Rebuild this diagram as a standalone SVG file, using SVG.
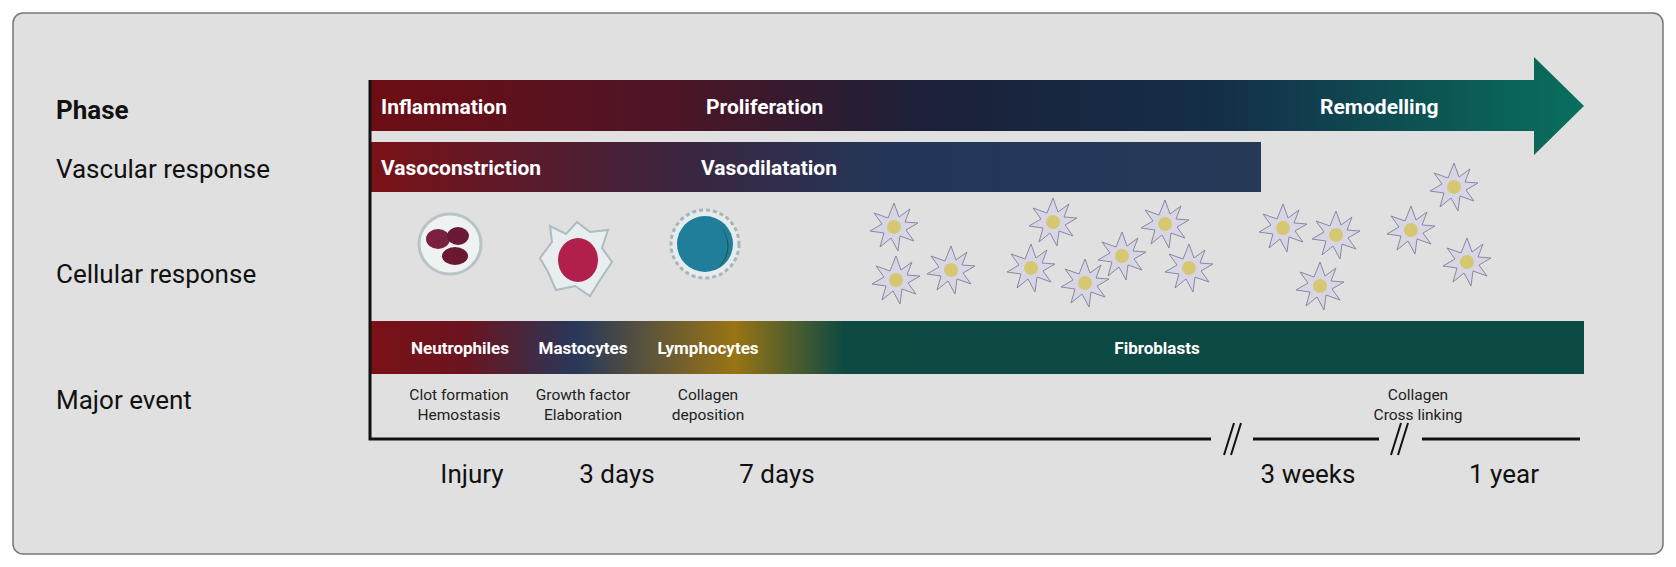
<svg xmlns="http://www.w3.org/2000/svg" xmlns:xlink="http://www.w3.org/1999/xlink" width="1676" height="567" viewBox="0 0 1676 567">
<style>
.lbl{font-family:Roboto,"Liberation Sans",sans-serif;fill:#111;font-size:26px}
.bw{font-family:Roboto,"Liberation Sans",sans-serif;fill:#fff;font-weight:bold;font-size:21px}
.cw{font-family:Roboto,"Liberation Sans",sans-serif;fill:#fff;font-weight:bold;font-size:17px;text-anchor:middle}
.ev{font-family:Roboto,"Liberation Sans",sans-serif;fill:#222;font-size:15.5px;text-anchor:middle}
.tm{font-family:Roboto,"Liberation Sans",sans-serif;fill:#111;font-size:26px;text-anchor:middle}
.ax{stroke:#111;stroke-width:3;fill:none}
</style>
<defs>
<linearGradient id="gp" x1="370" y1="0" x2="1584" y2="0" gradientUnits="userSpaceOnUse">
<stop offset="0" stop-color="#6e0d14"/><stop offset="0.25" stop-color="#4d1526"/><stop offset="0.45" stop-color="#1c2038"/><stop offset="0.7" stop-color="#142e48"/><stop offset="1" stop-color="#08705d"/>
</linearGradient>
<linearGradient id="gv" x1="370" y1="0" x2="1261" y2="0" gradientUnits="userSpaceOnUse">
<stop offset="0" stop-color="#7a1116"/><stop offset="0.35" stop-color="#3b2540"/><stop offset="0.6" stop-color="#22385a"/><stop offset="1" stop-color="#263a58"/>
</linearGradient>
<linearGradient id="gc" x1="370" y1="0" x2="1584" y2="0" gradientUnits="userSpaceOnUse">
<stop offset="0" stop-color="#7a1116"/><stop offset="0.08" stop-color="#6a1420"/><stop offset="0.17" stop-color="#28385a"/><stop offset="0.3" stop-color="#9a7414"/><stop offset="0.39" stop-color="#0e4a42"/><stop offset="1" stop-color="#0c4a44"/>
</linearGradient>
<g id="fb">
<polygon points="0,-24 5,-10 16,-18 11,-5 24,-4 12,3 20,14 6,9 4,24 -3,11 -14,20 -10,6 -24,4 -12,-3 -20,-14 -6,-9" fill="#d8d6e4" stroke="#8a88a0" stroke-width="1"/>
<circle r="7" fill="#d6c873"/>
</g>
</defs>
<rect x="13" y="13" width="1650" height="541" rx="10" fill="#dfe0df" stroke="#777" stroke-width="1.5"/>
<g id="labels">
<text class="lbl" x="56" y="119" font-weight="bold" font-size="30">Phase</text>
<text class="lbl" x="56" y="178">Vascular response</text>
<text class="lbl" x="56" y="283">Cellular response</text>
<text class="lbl" x="56" y="409">Major event</text>
</g>
<g id="phase">
<polygon points="370,80 1534,80 1534,57 1584,106 1534,155 1534,131 370,131" fill="url(#gp)"/>
<text class="bw" x="381" y="114">Inflammation</text>
<text class="bw" x="706" y="114">Proliferation</text>
<text class="bw" x="1320" y="114">Remodelling</text>
</g>
<g id="vascular">
<rect x="370" y="142" width="891" height="50" fill="url(#gv)"/>
<text class="bw" x="381" y="175">Vasoconstriction</text>
<text class="bw" x="701" y="175">Vasodilatation</text>
</g>
<g id="cells">
<ellipse cx="450" cy="244" rx="31" ry="30" fill="#eef2f2" stroke="#b8c4c8" stroke-width="3"/>
<ellipse cx="438" cy="239" rx="12" ry="10" fill="#7a2040"/><ellipse cx="458" cy="236" rx="11" ry="9" fill="#6a1a38"/><ellipse cx="455" cy="256" rx="13" ry="9" fill="#6a1830"/>
<polygon points="577,222 590,232 608,230 602,248 612,262 600,280 590,296 575,286 556,290 548,272 540,258 552,242 550,226 566,234" fill="#e8eeef" stroke="#aebcc2" stroke-width="2"/>
<ellipse cx="578" cy="260" rx="20" ry="22" fill="#b0204a"/>
<circle cx="705" cy="244" r="34" fill="#e6ecee" stroke="#a8b4b8" stroke-width="3" stroke-dasharray="4 3"/>
<circle cx="705" cy="244" r="28" fill="#1f7f9a"/><path d="M720,226 A28,28 0 0 1 715,270 A30,30 0 0 0 720,226Z" fill="#1d5a40"/>
<g id="fibroblasts">
<use xlink:href="#fb" x="894" y="227"/><use xlink:href="#fb" x="896" y="280"/><use xlink:href="#fb" x="951" y="270"/>
<use xlink:href="#fb" x="1053" y="222"/><use xlink:href="#fb" x="1031" y="268"/><use xlink:href="#fb" x="1085" y="283"/><use xlink:href="#fb" x="1122" y="256"/><use xlink:href="#fb" x="1165" y="224"/><use xlink:href="#fb" x="1189" y="268"/>
<use xlink:href="#fb" x="1283" y="228"/><use xlink:href="#fb" x="1336" y="235"/><use xlink:href="#fb" x="1320" y="286"/>
<use xlink:href="#fb" x="1454" y="187"/><use xlink:href="#fb" x="1411" y="230"/><use xlink:href="#fb" x="1467" y="262"/>
</g>
</g>
<g id="cellbar">
<rect x="370" y="321" width="1214" height="53" fill="url(#gc)"/>
<text class="cw" x="460" y="354">Neutrophiles</text>
<text class="cw" x="583" y="354">Mastocytes</text>
<text class="cw" x="708" y="354">Lymphocytes</text>
<text class="cw" x="1157" y="354">Fibroblasts</text>
</g>
<g id="events">
<text class="ev" x="459" y="400">Clot formation</text><text class="ev" x="459" y="420">Hemostasis</text>
<text class="ev" x="583" y="400">Growth factor</text><text class="ev" x="583" y="420">Elaboration</text>
<text class="ev" x="708" y="400">Collagen</text><text class="ev" x="708" y="420">deposition</text>
<text class="ev" x="1418" y="400">Collagen</text><text class="ev" x="1418" y="420">Cross linking</text>
</g>
<g id="connectors">
<path class="ax" d="M370,80 V439 H1211"/>
<path class="ax" d="M1253,439 H1379"/>
<path class="ax" d="M1422,439 H1580"/>
<path d="M1224,455 L1234,423 M1231,455 L1241,423" stroke="#111" stroke-width="2"/>
<path d="M1391,455 L1401,423 M1398,455 L1408,423" stroke="#111" stroke-width="2"/>
</g>
<g id="times">
<text class="tm" x="472" y="483">Injury</text>
<text class="tm" x="617" y="483">3 days</text>
<text class="tm" x="777" y="483">7 days</text>
<text class="tm" x="1308" y="483">3 weeks</text>
<text class="tm" x="1504" y="483">1 year</text>
</g>
</svg>
